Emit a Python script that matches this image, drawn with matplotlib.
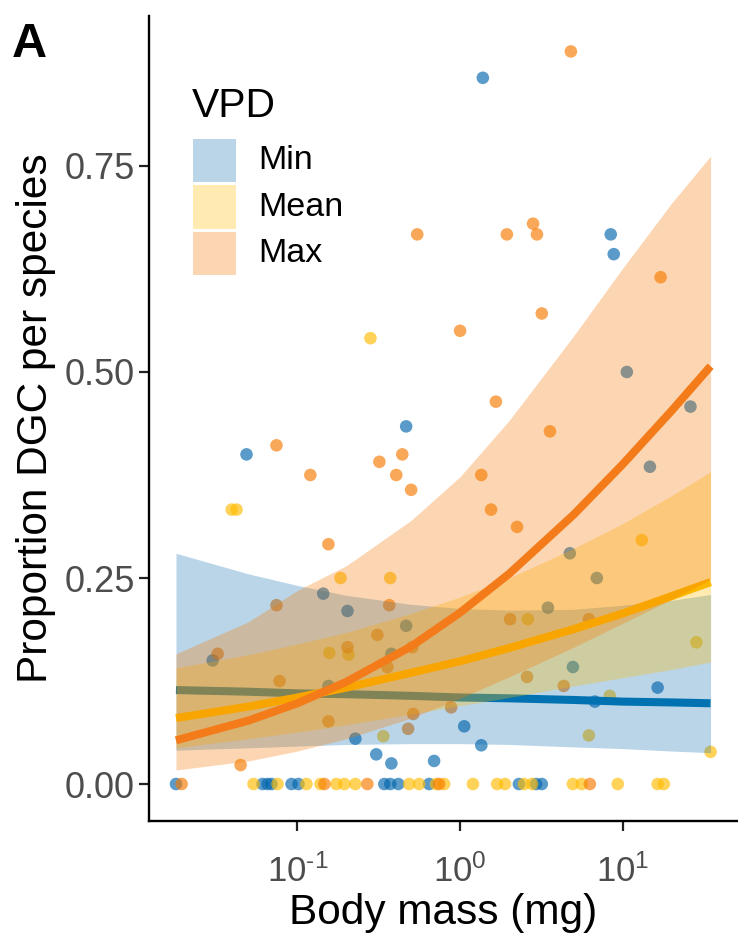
import matplotlib
matplotlib.use("Agg")
import matplotlib.pyplot as plt
from matplotlib.patches import Rectangle

plt.rcParams['font.family'] = ['Liberation Sans', 'DejaVu Sans']
plt.rcParams['mathtext.fontset'] = 'custom'
plt.rcParams['mathtext.rm'] = 'Liberation Sans'
plt.rcParams['mathtext.it'] = 'Liberation Sans:italic'
plt.rcParams['axes.unicode_minus'] = False

# observed proportions per species (body mass in mg)
min_mass = [0.0179, 0.0610, 0.0655, 0.0692, 0.0919, 0.1014, 0.342, 0.372, 0.417, 0.645,
            2.30, 2.93, 3.18, 1.38, 8.44, 8.81, 0.466, 0.0486, 10.6, 26.1, 14.7, 4.73,
            6.93, 0.144, 0.203, 3.47, 0.466, 0.0301, 0.378, 0.155, 4.94, 16.4, 6.74,
            1.06, 0.227, 0.305, 0.378, 0.692, 1.35]
min_prop = [0, 0, 0, 0, 0, 0, 0, 0, 0, 0,
            0, 0, 0, 0.857, 0.667, 0.643, 0.434, 0.400, 0.500, 0.458, 0.385, 0.280,
            0.250, 0.231, 0.210, 0.214, 0.192, 0.150, 0.158, 0.119, 0.142, 0.117, 0.100,
            0.070, 0.055, 0.036, 0.025, 0.028, 0.047]

mean_mass = [0.0537, 0.0754, 0.1135, 0.1385, 0.1734, 0.1942, 0.227, 0.486, 0.560, 0.712,
             0.798, 1.20, 1.69, 1.89, 2.47, 2.77, 4.94, 5.60, 9.32, 16.4, 17.9,
             0.281, 0.0394, 0.0422, 0.184, 0.372, 0.157, 0.206, 0.337, 2.61, 28.4,
             13.1, 8.32, 6.19, 34.7]
mean_prop = [0, 0, 0, 0, 0, 0, 0, 0, 0, 0,
             0, 0, 0, 0, 0, 0, 0, 0, 0, 0, 0,
             0.541, 0.333, 0.333, 0.250, 0.250, 0.159, 0.157, 0.058, 0.200, 0.172,
             0.296, 0.107, 0.059, 0.039]

max_mass = [0.0194, 0.1465, 0.269, 0.743, 6.28,
            0.545, 4.80, 2.81, 1.94, 2.97, 17.1, 0.0743, 0.319, 0.441, 0.120, 0.405,
            0.500, 0.155, 1.00, 3.18, 1.66, 3.57, 1.35, 1.55, 2.24, 0.0743, 0.367,
            0.310, 0.0323, 0.203, 0.508, 0.357, 0.0776, 0.155, 0.515, 0.479, 0.0447,
            2.03, 6.19, 2.58, 4.34, 0.881]
max_prop = [0, 0, 0, 0, 0,
            0.667, 0.889, 0.680, 0.667, 0.667, 0.615, 0.411, 0.391, 0.400, 0.375, 0.375,
            0.357, 0.291, 0.550, 0.571, 0.464, 0.428, 0.375, 0.333, 0.312, 0.217, 0.217,
            0.181, 0.158, 0.166, 0.166, 0.142, 0.125, 0.076, 0.085, 0.067, 0.023,
            0.200, 0.200, 0.130, 0.119, 0.093]

# fitted model predictions with 95% CI
fit_mass = [0.0179, 0.05, 0.1, 0.2, 0.5, 1, 2, 5, 10, 20, 34.7]
min_fit = [0.114, 0.112, 0.110, 0.109, 0.107, 0.105, 0.104, 0.102, 0.100, 0.099, 0.098]
min_lo = [0.041, 0.044, 0.046, 0.048, 0.049, 0.049, 0.048, 0.045, 0.043, 0.040, 0.038]
min_hi = [0.280, 0.255, 0.241, 0.229, 0.218, 0.213, 0.211, 0.212, 0.217, 0.223, 0.230]
mean_fit = [0.080, 0.094, 0.105, 0.117, 0.135, 0.149, 0.165, 0.188, 0.207, 0.228, 0.245]
mean_lo = [0.044, 0.055, 0.063, 0.072, 0.085, 0.095, 0.105, 0.119, 0.129, 0.139, 0.148]
mean_hi = [0.141, 0.157, 0.170, 0.184, 0.207, 0.227, 0.250, 0.286, 0.316, 0.350, 0.379]
max_fit = [0.053, 0.077, 0.098, 0.124, 0.167, 0.208, 0.255, 0.327, 0.388, 0.453, 0.507]
max_lo = [0.017, 0.028, 0.040, 0.055, 0.080, 0.104, 0.130, 0.166, 0.195, 0.224, 0.248]
max_hi = [0.158, 0.197, 0.235, 0.265, 0.320, 0.373, 0.441, 0.544, 0.626, 0.705, 0.762]

groups = ['Min', 'Mean', 'Max']
fill_colors = {'Min': '#0366AD', 'Mean': '#FFBC00', 'Max': '#F77A00'}
line_colors = {'Min': '#0072B2', 'Mean': '#FBB800', 'Max': '#F47B1A'}
ribbon_alpha = {'Min': 0.27, 'Mean': 0.3, 'Max': 0.3}

x_ticks = [0.1, 1, 10]
x_tick_labels = [r'$\mathdefault{10^{\text{-1}}}$', r'$\mathdefault{10^{0}}$', r'$\mathdefault{10^{1}}$']
y_ticks = [0, 0.25, 0.5, 0.75]
y_tick_labels = ['0.00', '0.25', '0.50', '0.75']

fig = plt.figure(figsize=(7.38, 9.36), dpi=100)
ax = fig.add_axes([149 / 738, 1 - 820.6 / 936, 589 / 738, 804.6 / 936])

points = {'Min': (min_mass, min_prop), 'Mean': (mean_mass, mean_prop), 'Max': (max_mass, max_prop)}
fits = {'Min': (min_fit, min_lo, min_hi), 'Mean': (mean_fit, mean_lo, mean_hi),
        'Max': (max_fit, max_lo, max_hi)}

for g in groups:
    m, p = points[g]
    ax.scatter(m, p, s=82, color=fill_colors[g], alpha=0.65, edgecolors='none', zorder=2)

z = 3
for g in groups:
    f, lo, hi = fits[g]
    ax.fill_between(fit_mass, lo, hi, color=fill_colors[g], alpha=ribbon_alpha[g], linewidth=0, zorder=z)
    ax.plot(fit_mass, f, color=line_colors[g], lw=5.8, solid_capstyle='butt', zorder=z + 1)
    z += 2

ax.set_xscale('log')
ax.set_xlim(10 ** -1.913, 10 ** 1.709)
ax.set_ylim(-0.0444, 0.932)
ax.set_xticks(x_ticks)
ax.set_xticklabels(x_tick_labels)
ax.xaxis.set_minor_locator(matplotlib.ticker.NullLocator())
ax.set_yticks(y_ticks)
ax.set_yticklabels(y_tick_labels)

for s in ['top', 'right']:
    ax.spines[s].set_visible(False)
for s in ['left', 'bottom']:
    ax.spines[s].set_linewidth(1.7)
ax.tick_params(axis='both', length=7, width=1.6, color='#222222', labelcolor='#4D4D4D')
ax.tick_params(axis='y', labelsize=26, pad=3)
ax.tick_params(axis='x', labelsize=25, pad=17)

ax.set_xlabel('Body mass (mg)', fontsize=30.5)
ax.set_ylabel('Proportion DGC per species', fontsize=30.5)
ax.xaxis.set_label_coords(0.5, -0.09)
ax.yaxis.set_label_coords(-0.158, 0.5)

# legend drawn as keys + labels in figure pixels
fig.text(192 / 738, 1 - 117 / 936, 'VPD', fontsize=29.4, va='baseline')
for i, g in enumerate(groups):
    top = 139 + 46.5 * i
    fig.patches.append(Rectangle((193 / 738, 1 - (top + 43) / 936), 43 / 738, 43 / 936,
                                 transform=fig.transFigure, facecolor=fill_colors[g],
                                 alpha=ribbon_alpha[g], edgecolor='none'))
    fig.text(258 / 738, 1 - (top + 21.5) / 936, g, fontsize=24.5, va='center')
fig.text(12 / 738, 1 - 57 / 936, 'A', fontsize=35, fontweight='bold', va='baseline')

fig.savefig('out.png', dpi=100)
